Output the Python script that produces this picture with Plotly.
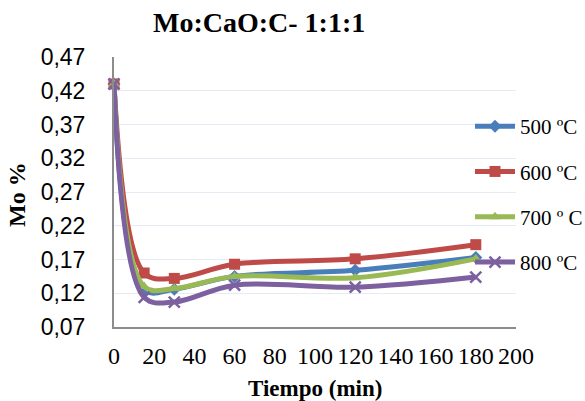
import plotly.graph_objects as go

tiempo = [0, 15, 30, 60, 120, 180]
mo_500 = [0.430, 0.125, 0.126, 0.145, 0.154, 0.173]
mo_600 = [0.430, 0.150, 0.142, 0.163, 0.171, 0.192]
mo_700 = [0.430, 0.130, 0.127, 0.145, 0.143, 0.171]
mo_800 = [0.430, 0.114, 0.107, 0.132, 0.129, 0.144]
series_names = ["500 ºC", "600 ºC", "700 º C", "800 ºC"]
y_ticks = [0.07, 0.12, 0.17, 0.22, 0.27, 0.32, 0.37, 0.42, 0.47]
x_ticks = list(range(0, 201, 20))

colors = ["#4a7ebb", "#be4b48", "#98b954", "#7d60a0"]
symbols = ["diamond", "square", "triangle-up", "x-thin-open"]
sizes = [10, 11, 10, 11]

fig = go.Figure()
for i, (name, ys) in enumerate(zip(series_names, [mo_500, mo_600, mo_700, mo_800])):
    marker = dict(symbol=symbols[i], size=sizes[i], color=colors[i])
    if symbols[i] == "x-thin-open":
        marker["line"] = dict(color=colors[i], width=2.5)
    fig.add_trace(go.Scatter(
        x=tiempo, y=ys, name=name, mode="lines+markers",
        line=dict(color=colors[i], width=5, shape="spline", smoothing=1.0),
        marker=marker, cliponaxis=False, legendgroup=name,
    ))

L, R, T, B = 114, 516, 57, 327
W, H = 585, 401
fig.update_layout(
    width=W, height=H,
    margin=dict(l=L, r=W - R, t=T, b=H - B, autoexpand=False),
    paper_bgcolor="white", plot_bgcolor="white",
    showlegend=True,
    legend=dict(
        x=(470 - L) / (R - L), y=(B - 106) / (B - T), xanchor="left", yanchor="top",
        font=dict(family="Liberation Serif", size=21, color="black"),
        bgcolor="rgba(0,0,0,0)", tracegroupgap=15, itemwidth=40,
    ),
    xaxis=dict(
        range=[0, 200], tickvals=x_ticks, ticktext=[str(v) for v in x_ticks],
        showgrid=False, zeroline=False, showline=True, linecolor="#8c8c8c", linewidth=2,
        ticks="", tickfont=dict(family="Liberation Serif", size=24, color="black"),
        ticklabelstandoff=6, automargin=False,
    ),
    yaxis=dict(
        range=[0.07, 0.47], tickvals=y_ticks,
        ticktext=[f"{v:.2f}".replace(".", ",") for v in y_ticks],
        showgrid=True, gridcolor="#e6eaf3", gridwidth=1, zeroline=False,
        showline=True, linecolor="#8c8c8c", linewidth=2,
        ticks="", tickfont=dict(family="Liberation Sans", size=23, color="black"),
        ticklabelstandoff=22, automargin=False,
    ),
    annotations=[
        dict(text="<b>Mo:CaO:C- 1:1:1</b>", xref="paper", yref="paper",
             x=(259 - L) / (R - L), y=(B - 23) / (B - T), xanchor="center", yanchor="middle",
             showarrow=False, font=dict(family="Liberation Serif", size=28, color="black")),
        dict(text="<b>Mo %</b>", xref="paper", yref="paper", textangle=-90,
             x=(17 - L) / (R - L), y=(B - 195) / (B - T), xanchor="center", yanchor="middle",
             showarrow=False, font=dict(family="Liberation Serif", size=24, color="black")),
        dict(text="<b>Tiempo (min)</b>", xref="paper", yref="paper",
             x=(315 - L) / (R - L), y=(B - 388) / (B - T), xanchor="center", yanchor="middle",
             showarrow=False, font=dict(family="Liberation Serif", size=23, color="black")),
    ],
)

fig.write_html("out.html")
